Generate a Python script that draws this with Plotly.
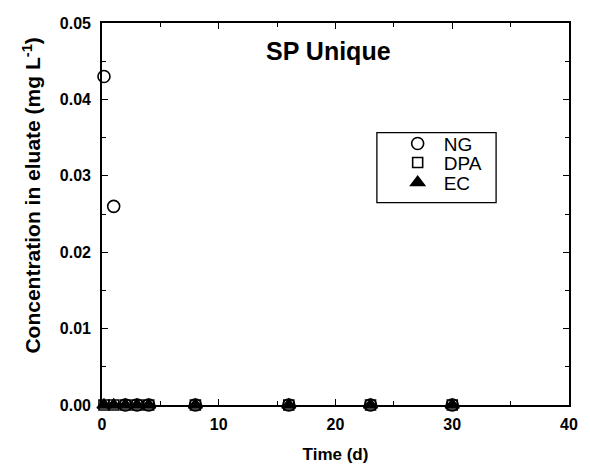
import plotly.graph_objects as go

time_d = [0.17, 1, 2, 3, 4, 8, 16, 23, 30]
ng = [0.043, 0.026, 0, 0, 0, 0, 0, 0, 0]
dpa = [0, 0, 0, 0, 0, 0, 0, 0, 0]
ec = [0, 0, 0, 0, 0, 0, 0, 0, 0]

series = [
    ("NG", ng, "circle-open", 12, "legend", 144),
    ("DPA", dpa, "square-open", 10, "legend2", 163),
    ("EC", ec, "triangle-up", 12, "legend3", 183),
]

PLOT_L, PLOT_R, PLOT_T, PLOT_B = 102, 576, 23, 406
W, H = 590, 473

def px_to_paper_x(px):
    return (px - PLOT_L) / (PLOT_R - PLOT_L)

def px_to_paper_y(py):
    return (PLOT_B - py) / (PLOT_B - PLOT_T)

fig = go.Figure()
legends = {}
for name, vals, sym, sz, leg, row_y in series:
    fig.add_trace(go.Scatter(
        x=time_d, y=vals, mode="markers", name=name, cliponaxis=False,
        legend=leg,
        marker=dict(symbol=sym, size=sz, color="black",
                    line=dict(color="black", width=1.6)),
    ))
    legends[leg] = dict(x=px_to_paper_x(396), y=px_to_paper_y(row_y),
                        xanchor="left", yanchor="middle", itemwidth=42,
                        bgcolor="rgba(0,0,0,0)", borderwidth=0,
                        font=dict(family="Liberation Sans, Arial", size=19, color="black"))

tickfont = dict(family="Liberation Sans, Arial", size=16, color="black")
axis_common = dict(
    showline=True, linecolor="black", linewidth=1.6, mirror="allticks",
    ticks="inside", ticklen=6, tickwidth=1.3, tickcolor="black",
    showgrid=False, zeroline=False, tickfont=tickfont,
)

fig.update_layout(
    width=W, height=H,
    margin=dict(l=PLOT_L, r=W - PLOT_R, t=PLOT_T, b=H - PLOT_B),
    paper_bgcolor="white", plot_bgcolor="white",
    font=dict(family="Liberation Sans, Arial", color="black"),
    xaxis=dict(range=[0, 40], dtick=10, tick0=0, ticklabelstandoff=4,
               minor=dict(dtick=5, ticks="inside", ticklen=4, tickcolor="black", tickwidth=1.3),
               title=dict(text="<b>Time (d)</b>", font=dict(size=17), standoff=16),
               tickprefix="<b>", ticksuffix="</b>", **axis_common),
    yaxis=dict(range=[0, 0.05], dtick=0.01, tick0=0, tickformat=".2f", ticklabelstandoff=6,
               minor=dict(dtick=0.005, ticks="inside", ticklen=4, tickcolor="black", tickwidth=1.3),
               tickprefix="<b>", ticksuffix="</b>", **axis_common),
    showlegend=True,
    legend=legends["legend"],
    legend2=legends["legend2"],
    legend3=legends["legend3"],
    shapes=[dict(type="rect", xref="paper", yref="paper",
                 x0=px_to_paper_x(381), x1=px_to_paper_x(502),
                 y0=px_to_paper_y(203), y1=px_to_paper_y(133),
                 line=dict(color="black", width=1.3))],
    annotations=[
        dict(text="<b>SP Unique</b>", x=19.4, y=0.0463, xref="x", yref="y",
             showarrow=False, font=dict(size=25, color="black")),
        dict(text="<b>Concentration in eluate (mg L<sup>-1</sup>)</b>",
             x=px_to_paper_x(30), y=px_to_paper_y(196), xref="paper", yref="paper",
             xanchor="center", yanchor="middle", textangle=-90,
             showarrow=False, font=dict(size=21, color="black")),
    ],
)

fig.write_html("out.html")
